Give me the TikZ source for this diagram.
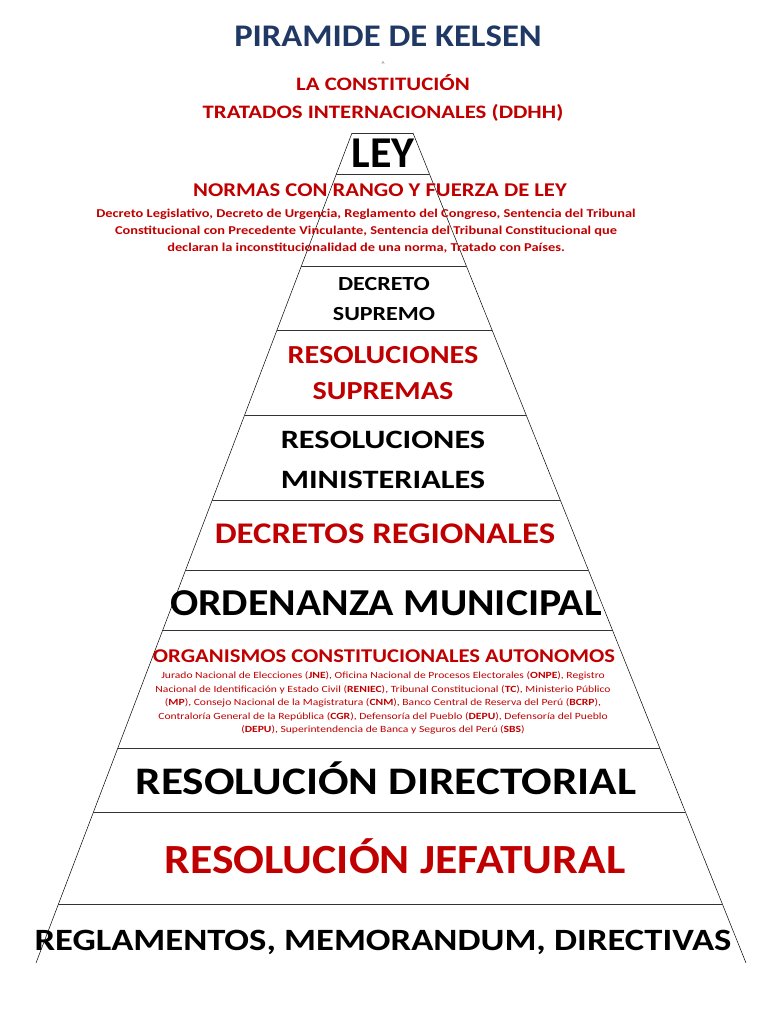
\documentclass[tikz,border=0pt]{standalone}
\usepackage{fontspec}
\setmainfont{Carlito}
\usepackage{xcolor}
\usetikzlibrary{positioning, calc}
\definecolor{titleblue}{HTML}{1F3864}
\definecolor{lawred}{HTML}{C00000}

\tikzset{
  level/.style = {align=center, font=\bfseries, inner sep=0pt},
  redlevel/.style = {level, text=lawred},
  stretch/.style = {transform shape, xscale=#1},
  rule/.style = {draw=black!80, line width=0.9pt},
}

\begin{document}
\begin{tikzpicture}[x=1pt, y=-1pt]
  \useasboundingbox (0,0) rectangle (768,1024);

  % Pyramid outline
  \coordinate (tl) at (352,133);
  \coordinate (tr) at (413,133);
  \coordinate (bl) at (36,963);
  \coordinate (br) at (746,963);
  \draw[line width=0.5pt] (tl) -- (bl);
  \draw[line width=0.5pt] (tr) -- (br);
  \foreach \y in {133,174,266,330,415,500,570,630,748,812,904} {
    \pgfmathsetmacro{\t}{(\y-133)/830}
    \draw[rule] ($(tl)!\t!(bl)$) -- ($(tr)!\t!(br)$);
  }

  % Title
  \node[level, stretch=1.1, text=titleblue, font=\bfseries\fontsize{31.5}{36}\selectfont] (title) at (388,36) {PIRAMIDE DE KELSEN};
  \node[font=\fontsize{7}{8}\selectfont, text=black!60] (caret) at (383,64) {\textasciicircum};
  \node[redlevel, stretch=1.2, font=\bfseries\fontsize{19}{28}\selectfont] (constitucion) at (383,98) {LA CONSTITUCIÓN\\TRATADOS INTERNACIONALES (DDHH)};

  % Levels
  \node[level, font=\bfseries\fontsize{44}{48}\selectfont] (ley) at (383,153) {LEY};
  \node[redlevel, stretch=1.16, font=\bfseries\fontsize{19.5}{22}\selectfont] (normas) at (380,190) {NORMAS CON RANGO Y FUERZA DE LEY};
  \node[redlevel, stretch=1.2, font=\bfseries\fontsize{12}{17}\selectfont] (normasdet) at (366,231)
    {Decreto Legislativo, Decreto de Urgencia, Reglamento del Congreso, Sentencia del Tribunal\\
     Constitucional con Precedente Vinculante, Sentencia del Tribunal Constitucional que\\
     declaran la inconstitucionalidad de una norma, Tratado con Países.};
  \node[level, stretch=1.2, font=\bfseries\fontsize{20}{30}\selectfont] (decreto) at (384,299) {DECRETO\\SUPREMO};
  \node[redlevel, stretch=1.16, font=\bfseries\fontsize{26}{36}\selectfont] (supremas) at (383,373) {RESOLUCIONES\\SUPREMAS};
  \node[level, stretch=1.22, font=\bfseries\fontsize{26.5}{40}\selectfont] (ministeriales) at (383,460) {RESOLUCIONES\\MINISTERIALES};
  \node[redlevel, stretch=1.16, font=\bfseries\fontsize{30}{34}\selectfont] (regionales) at (385,534) {DECRETOS REGIONALES};
  \node[level, stretch=1.1, font=\bfseries\fontsize{38}{42}\selectfont] (ordenanza) at (386,603) {ORDENANZA MUNICIPAL};
  \node[redlevel, stretch=1.16, font=\bfseries\fontsize{19.5}{22}\selectfont] (organismos) at (384,656) {ORGANISMOS CONSTITUCIONALES AUTONOMOS};
  \node[stretch=1.22, font=\fontsize{9.5}{13.5}\selectfont, text=lawred, align=center, inner sep=0pt] (organismosdet) at (383,703)
    {Jurado Nacional de Elecciones (\textbf{JNE}), Oficina Nacional de Procesos Electorales (\textbf{ONPE}), Registro\\
     Nacional de Identificación y Estado Civil (\textbf{RENIEC}), Tribunal Constitucional (\textbf{TC}), Ministerio Público\\
     (\textbf{MP}), Consejo Nacional de la Magistratura (\textbf{CNM}), Banco Central de Reserva del Perú (\textbf{BCRP}),\\
     Contraloría General de la República (\textbf{CGR}), Defensoría del Pueblo (\textbf{DEPU}), Defensoría del Pueblo\\
     (\textbf{DEPU}), Superintendencia de Banca y Seguros del Perú (\textbf{SBS})};
  \node[level, stretch=1.16, font=\bfseries\fontsize{39}{42}\selectfont] (directorial) at (386,778) {RESOLUCIÓN DIRECTORIAL};
  \node[redlevel, stretch=1.1, font=\bfseries\fontsize{41.5}{44}\selectfont] (jefatural) at (395,856) {RESOLUCIÓN JEFATURAL};
  \node[level, stretch=1.18, font=\bfseries\fontsize{31}{34}\selectfont] (reglamentos) at (383,942) {REGLAMENTOS, MEMORANDUM, DIRECTIVAS};

  % Repeated title, cut by the page edge
  \node[level, stretch=1.1, text=titleblue, font=\bfseries\fontsize{31.5}{36}\selectfont] (titlerepeat) at (375,1036) {PIRAMIDE DE KELSEN};
\end{tikzpicture}
\end{document}
